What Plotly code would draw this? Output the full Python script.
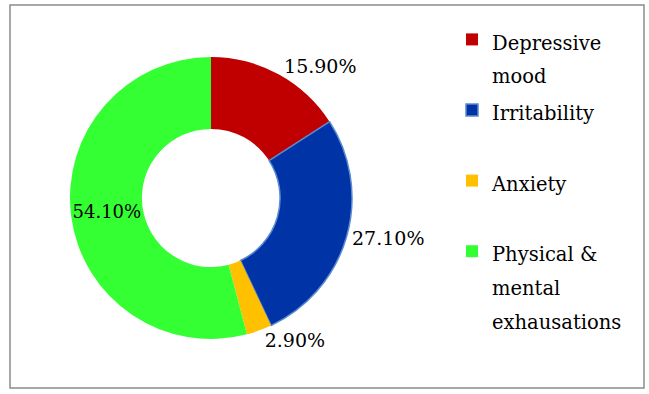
import plotly.graph_objects as go

categories = ["Depressive<br>mood", "Irritability<br> ", "Anxiety<br> ", "Physical &<br>mental<br>exhausations"]
values = [15.9, 27.1, 2.9, 54.1]
text_labels = ["15.90%", "27.10%", "2.90%", "54.10%"]
colors = ["#C00000", "#0033A6", "#FFC000", "#33FF33"]
line_colors = ["rgba(0,0,0,0)", "#5B8BD0", "rgba(0,0,0,0)", "rgba(0,0,0,0)"]
text_positions = ["outside", "outside", "outside", "inside"]

FONT = "DejaVu Serif"
W, H = 649, 394
cx, cy, R = 211, 198, 141

legend_labels = ['<span style="font-size:19.5px">' + c.replace("<br>", '</span><br><span style="font-size:19.5px">') + "</span>" for c in categories]

fig = go.Figure(go.Pie(
    labels=legend_labels,
    values=values,
    text=text_labels,
    textinfo="text",
    textposition=text_positions,
    insidetextorientation="horizontal",
    sort=False,
    direction="clockwise",
    rotation=0,
    hole=0.49,
    marker=dict(colors=colors, line=dict(color=line_colors, width=1.5)),
    textfont=dict(family=FONT, size=19, color="black"),
    insidetextfont=dict(family=FONT, size=19, color="black"),
    outsidetextfont=dict(family=FONT, size=19, color="black"),
    domain=dict(x=[(cx - R) / W, (cx + R) / W], y=[1 - (cy + R) / H, 1 - (cy - R) / H]),
))

fig.update_layout(
    width=W, height=H,
    margin=dict(l=0, r=0, t=0, b=0),
    paper_bgcolor="white",
    font=dict(family=FONT, color="black"),
    showlegend=True,
    legend=dict(
        x=452 / W, y=1 - 16 / H, xanchor="left", yanchor="top",
        font=dict(family=FONT, size=26, color="black"),
        valign="top",
        itemwidth=30,
        bgcolor="rgba(0,0,0,0)",
    ),
    shapes=[dict(type="rect", xref="paper", yref="paper",
                 x0=10 / W, x1=644 / W, y0=1 - 388 / H, y1=1 - 5 / H,
                 line=dict(color="#8C8C8C", width=1.5), fillcolor="rgba(0,0,0,0)")],
)

fig.write_html("out.html")
